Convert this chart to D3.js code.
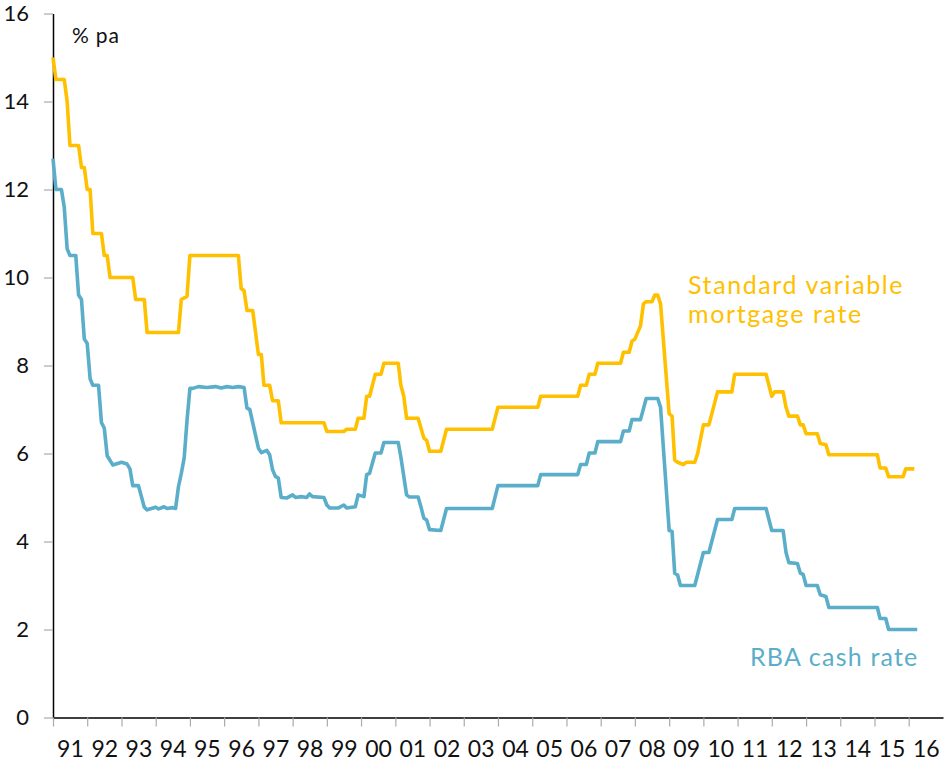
<!DOCTYPE html>
<html>
<head>
<meta charset="utf-8">
<script src="https://cdn.jsdelivr.net/npm/d3@7"></script>
<style>
  body { margin: 0; background: #fff; }
  text { font-family: Lato, "Noto Sans", sans-serif; }
</style>
</head>
<body>
<script>
// monthly averages, only the months where the line bends are listed
var cashMonths = ["1990-12","1991-01","1991-03","1991-04","1991-05","1991-06","1991-08","1991-09","1991-10","1991-11",
  "1991-12","1992-01","1992-02","1992-04","1992-05","1992-06","1992-07","1992-09","1992-12","1993-02",
  "1993-03","1993-04","1993-06","1993-08","1993-09","1993-12","1994-01","1994-03","1994-04","1994-06",
  "1994-07","1994-08","1994-09","1994-10","1994-11","1994-12","1995-01","1995-03","1995-06","1995-09",
  "1995-11","1996-01","1996-03","1996-05","1996-07","1996-08","1996-09","1996-12","1997-01","1997-03",
  "1997-04","1997-05","1997-06","1997-07","1997-08","1997-10","1997-12","1998-01","1998-03","1998-05",
  "1998-06","1998-07","1998-11","1998-12","1999-01","1999-04","1999-06","1999-07","1999-10","1999-11",
  "2000-01","2000-02","2000-03","2000-04","2000-05","2000-07","2000-08","2001-01","2001-02","2001-04",
  "2001-05","2001-08","2001-09","2001-10","2001-11","2001-12","2002-04","2002-06","2003-10","2003-12",
  "2005-02","2005-03","2006-04","2006-05","2006-07","2006-08","2006-10","2006-11","2007-07","2007-08",
  "2007-10","2007-11","2008-02","2008-04","2008-08","2008-09","2008-12","2009-01","2009-02","2009-03",
  "2009-04","2009-09","2009-12","2010-02","2010-05","2010-10","2010-11","2011-10","2011-12","2012-04",
  "2012-05","2012-06","2012-09","2012-10","2012-11","2012-12","2013-04","2013-05","2013-07","2013-08",
  "2015-01","2015-02","2015-04","2015-05","2016-03"];
var cashRate = [12.7,12.0,12.0,11.6,10.65,10.5,10.5,9.6,9.5,8.6,
  8.5,7.7,7.55,7.55,6.7,6.58,5.95,5.74,5.8,5.76,
  5.65,5.27,5.27,4.78,4.72,4.78,4.74,4.79,4.75,4.77,
  4.75,5.25,5.55,5.9,6.75,7.48,7.48,7.52,7.5,7.52,
  7.49,7.52,7.5,7.52,7.5,7.03,7.0,6.12,6.02,6.07,
  5.97,5.63,5.48,5.44,5.0,4.99,5.06,5.0,5.02,5.0,
  5.08,5.02,5.0,4.83,4.76,4.76,4.83,4.76,4.79,5.06,
  5.02,5.52,5.55,5.78,6.01,6.01,6.25,6.25,5.92,5.06,
  5.01,5.01,4.79,4.53,4.49,4.27,4.25,4.75,4.75,5.27,
  5.27,5.52,5.52,5.75,5.75,6.01,6.01,6.27,6.27,6.51,
  6.51,6.77,6.77,7.25,7.25,7.05,4.25,4.23,3.28,3.24,
  3.0,3.0,3.75,3.75,4.5,4.5,4.75,4.75,4.25,4.25,
  3.75,3.52,3.5,3.28,3.25,3.0,3.0,2.79,2.75,2.5,
  2.5,2.25,2.25,2.0,2.0];

var svrMonths = ["1990-12","1991-01","1991-04","1991-05","1991-06","1991-09","1991-10","1991-11","1991-12","1992-01",
  "1992-02","1992-05","1992-06","1992-07","1992-08","1993-04","1993-05","1993-08","1993-09","1994-08",
  "1994-09","1994-11","1994-12","1996-05","1996-06","1996-07","1996-08","1996-10","1996-12","1997-01",
  "1997-02","1997-04","1997-05","1997-07","1997-08","1998-11","1998-12","1999-06","1999-07","1999-10",
  "1999-11","2000-01","2000-02","2000-03","2000-05","2000-07","2000-08","2001-01","2001-02","2001-03",
  "2001-04","2001-08","2001-10","2001-11","2001-12","2002-04","2002-06","2003-10","2003-12","2005-02",
  "2005-03","2006-04","2006-05","2006-07","2006-08","2006-10","2006-11","2007-07","2007-08","2007-10",
  "2007-11","2007-12","2008-02","2008-03","2008-04","2008-06","2008-07","2008-08","2008-09","2008-12",
  "2009-01","2009-02","2009-03","2009-05","2009-06","2009-09","2009-10","2009-12","2010-02","2010-05",
  "2010-10","2010-11","2011-10","2011-12","2012-01","2012-04","2012-05","2012-06","2012-09","2012-10",
  "2012-11","2012-12","2013-04","2013-05","2013-07","2013-08","2015-01","2015-02","2015-04","2015-05",
  "2015-10","2015-11","2016-02"];
var svrRate = [15.0,14.5,14.5,14.0,13.0,13.0,12.5,12.5,12.0,12.0,
  11.0,11.0,10.5,10.5,10.0,10.0,9.5,9.5,8.75,8.75,
  9.5,9.57,10.5,10.5,9.75,9.7,9.25,9.25,8.25,8.25,
  7.55,7.55,7.2,7.2,6.7,6.7,6.5,6.5,6.55,6.55,
  6.8,6.8,7.3,7.3,7.8,7.8,8.05,8.05,7.55,7.3,
  6.8,6.8,6.35,6.3,6.05,6.05,6.55,6.55,7.05,7.05,
  7.3,7.3,7.55,7.55,7.8,7.8,8.05,8.05,8.3,8.3,
  8.55,8.6,8.9,9.4,9.45,9.45,9.6,9.6,9.4,6.9,
  6.85,5.85,5.8,5.75,5.8,5.8,6.0,6.65,6.65,7.4,
  7.4,7.8,7.8,7.3,7.4,7.4,7.05,6.85,6.85,6.65,
  6.65,6.45,6.45,6.23,6.2,5.97,5.97,5.67,5.67,5.47,
  5.47,5.65,5.65];

var yTicks = [0, 2, 4, 6, 8, 10, 12, 14, 16];
var years = d3.range(1991, 2017);

var width = 944, height = 763;
var plotLeft = 53, plotRight = 943, plotTop = 13.5, plotBottom = 717.5;

var blue = "#5aaec9", gold = "#ffc000";

var parseMonth = d3.timeParse("%Y-%m");
// each monthly average is drawn at the end of its month
function monthEnd(s) { return d3.timeMonth.offset(parseMonth(s), 1); }

var x = d3.scaleTime()
  .domain([new Date(1991, 0, 1), new Date(2017, 0, 1)])
  .range([plotLeft, plotRight]);

var y = d3.scaleLinear()
  .domain([0, 16])
  .range([plotBottom, plotTop]);

var svg = d3.select("body").append("svg")
  .attr("width", width)
  .attr("height", height);

// y axis
var yAxis = svg.append("g")
  .attr("transform", "translate(" + plotLeft + ",0)")
  .call(d3.axisLeft(y).tickValues(yTicks).tickSize(9).tickSizeOuter(0).tickPadding(15));
yAxis.select(".domain").attr("stroke", "#000").attr("stroke-width", 1.5);
yAxis.selectAll(".tick line").attr("stroke", "#aaa").attr("stroke-width", 1.2);
yAxis.selectAll(".tick text")
  .attr("fill", "#111")
  .style("font-size", "22px");

// x axis: ticks at year starts, labels at mid year
var xTickAxis = svg.append("g")
  .attr("transform", "translate(0," + plotBottom + ")")
  .call(d3.axisBottom(x)
    .tickValues(years.map(function(yr){ return new Date(yr, 0, 1); }))
    .tickSize(9).tickSizeOuter(0).tickFormat(""));
xTickAxis.select(".domain").attr("stroke", "#000").attr("stroke-width", 1.5);
xTickAxis.selectAll(".tick line").attr("stroke", "#aaa").attr("stroke-width", 1.2);

var xLabelAxis = svg.append("g")
  .attr("transform", "translate(0," + plotBottom + ")")
  .call(d3.axisBottom(x)
    .tickValues(years.map(function(yr){ return new Date(yr, 6, 1); }))
    .tickSize(0).tickPadding(23)
    .tickFormat(d3.timeFormat("%y")));
xLabelAxis.select(".domain").remove();
xLabelAxis.selectAll(".tick text")
  .attr("fill", "#111")
  .style("font-size", "23px");

svg.append("text")
  .attr("x", 72)
  .attr("y", 43)
  .attr("fill", "#111")
  .style("font-size", "21px")
  .style("letter-spacing", "0.8px")
  .text("% pa");

var line = d3.line()
  .x(function(d) { return x(d.date); })
  .y(function(d) { return y(d.value); });

var cashData = cashMonths.map(function(m, i){ return {date: monthEnd(m), value: cashRate[i]}; });
var svrData = svrMonths.map(function(m, i){ return {date: monthEnd(m), value: svrRate[i]}; });

svg.append("path")
  .datum(cashData)
  .attr("d", line)
  .attr("fill", "none")
  .attr("stroke", blue)
  .attr("stroke-width", 3.6)
  .attr("stroke-linejoin", "round");

svg.append("path")
  .datum(svrData)
  .attr("d", line)
  .attr("fill", "none")
  .attr("stroke", gold)
  .attr("stroke-width", 3.6)
  .attr("stroke-linejoin", "round");

// series labels
var svrLabel = svg.append("text")
  .attr("fill", gold)
  .style("font-size", "25px")
  .style("letter-spacing", "1.6px");
svrLabel.append("tspan").attr("x", 688).attr("y", 294).text("Standard variable");
svrLabel.append("tspan").attr("x", 688).attr("y", 323).text("mortgage rate");

svg.append("text")
  .attr("x", 750)
  .attr("y", 666)
  .attr("fill", blue)
  .style("font-size", "25px")
  .style("letter-spacing", "1.2px")
  .text("RBA cash rate");
</script>
</body>
</html>
